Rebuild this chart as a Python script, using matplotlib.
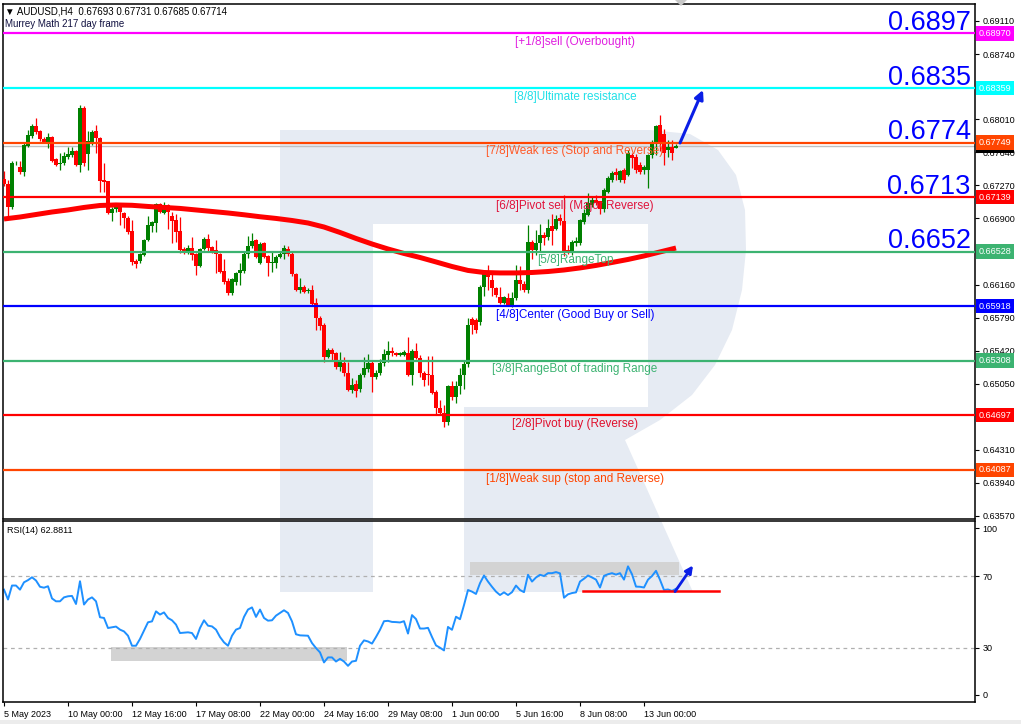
import matplotlib
matplotlib.use('Agg')
import matplotlib.pyplot as plt
from matplotlib.patches import Rectangle, Polygon

plt.rcParams['font.family'] = ['Liberation Sans', 'DejaVu Sans']

# ---------------- data ----------------
opens = [0.6734,0.6729,0.6703,0.6752,0.6748,0.6742,0.6771,0.6782,0.6794,0.6788,
         0.6779,0.6776,0.6781,0.6757,0.6751,0.6752,0.6759,0.6761,0.6765,0.6750,
         0.6814,0.6762,0.6776,0.6788,0.6780,0.6733,0.6732,0.6696,0.6700,0.6703,
         0.6696,0.6690,0.6676,0.6642,0.6642,0.6649,0.6666,0.6682,0.6685,0.6706,
         0.6696,0.6705,0.6693,0.6688,0.6676,0.6656,0.6652,0.6657,0.6650,0.6637,
         0.6656,0.6667,0.6658,0.6655,0.6650,0.6631,0.6620,0.6607,0.6619,0.6629,
         0.6631,0.6650,0.6659,0.6666,0.6640,0.6662,0.6648,0.6640,0.6640,0.6647,
         0.6650,0.6656,0.6650,0.6628,0.6610,0.6613,0.6609,0.6610,0.6595,0.6579,
         0.6571,0.6535,0.6543,0.6539,0.6524,0.6528,0.6517,0.6498,0.6505,0.6499,
         0.6515,0.6522,0.6528,0.6513,0.6517,0.6528,0.6537,0.6542,0.6539,0.6537,
         0.6537,0.6539,0.6515,0.6542,0.6534,0.6517,0.6516,0.6515,0.6496,0.6478,
         0.6472,0.6462,0.6502,0.6490,0.6502,0.6515,0.6527,0.6578,0.6576,0.6574,
         0.6613,0.6629,0.6621,0.6612,0.6602,0.6595,0.6601,0.6593,0.6601,0.6621,
         0.6617,0.6610,0.6664,0.6655,0.6662,0.6671,0.6669,0.6681,0.6678,0.6690,
         0.6687,0.6655,0.6652,0.6662,0.6662,0.6686,0.6694,0.6705,0.6711,0.6709,
         0.6700,0.6720,0.6733,0.6742,0.6733,0.6744,0.6739,0.6761,0.6759,0.6750,
         0.6744,0.6744,0.6761,0.6776,0.6795,0.6785,0.6767,0.6770,0.67693]
highs = [0.6743,0.6733,0.6754,0.6754,0.6754,0.6774,0.6789,0.6796,0.6802,0.6789,
         0.6781,0.6786,0.6782,0.6758,0.6763,0.6764,0.6770,0.6770,0.6767,0.6817,
         0.6816,0.6788,0.6789,0.6795,0.6781,0.6752,0.6732,0.6703,0.6705,0.6707,
         0.6697,0.6693,0.6688,0.6645,0.6651,0.6667,0.6693,0.6687,0.6707,0.6707,
         0.6708,0.6706,0.6697,0.6695,0.6692,0.6658,0.6660,0.6669,0.6651,0.6657,
         0.6669,0.6673,0.6659,0.6666,0.6651,0.6645,0.6623,0.6623,0.6630,0.6640,
         0.6652,0.6670,0.6674,0.6667,0.6664,0.6664,0.6649,0.6652,0.6649,0.6653,
         0.6660,0.6659,0.6652,0.6629,0.6623,0.6616,0.6612,0.6616,0.6601,0.6581,
         0.6573,0.6545,0.6545,0.6541,0.6541,0.6535,0.6529,0.6511,0.6509,0.6517,
         0.6535,0.6538,0.6530,0.6520,0.6533,0.6544,0.6553,0.6546,0.6540,0.6540,
         0.6543,0.6557,0.6544,0.6551,0.6537,0.6519,0.6536,0.6536,0.6498,0.6487,
         0.6481,0.6504,0.6508,0.6508,0.6523,0.6531,0.6579,0.6580,0.6579,0.6616,
         0.6631,0.6638,0.6630,0.6613,0.6613,0.6603,0.6606,0.6608,0.6638,0.6637,
         0.6620,0.6683,0.6666,0.6677,0.6684,0.6675,0.6689,0.6695,0.6694,0.6695,
         0.6716,0.6660,0.6666,0.6669,0.6689,0.6701,0.6718,0.6715,0.6716,0.6710,
         0.6724,0.6737,0.6743,0.6746,0.6744,0.6746,0.6767,0.6763,0.6762,0.6753,
         0.6750,0.6762,0.6778,0.6795,0.6806,0.6790,0.6778,0.6778,0.67731]
lows = [0.6726,0.6690,0.6701,0.6750,0.6740,0.6738,0.6770,0.6780,0.6785,0.6777,
        0.6774,0.6769,0.6753,0.6749,0.6744,0.6750,0.6757,0.6759,0.6749,0.6742,
        0.6749,0.6744,0.6772,0.6763,0.6720,0.6720,0.6695,0.6687,0.6697,0.6683,
        0.6679,0.6673,0.6638,0.6635,0.6640,0.6648,0.6665,0.6675,0.6675,0.6696,
        0.6695,0.6678,0.6662,0.6664,0.6651,0.6650,0.6650,0.6643,0.6627,0.6636,
        0.6655,0.6654,0.6651,0.6629,0.6629,0.6617,0.6604,0.6604,0.6616,0.6615,
        0.6629,0.6646,0.6657,0.6646,0.6639,0.6646,0.6626,0.6630,0.6634,0.6646,
        0.6645,0.6648,0.6626,0.6609,0.6607,0.6606,0.6606,0.6592,0.6565,0.6565,
        0.6529,0.6534,0.6532,0.6522,0.6519,0.6514,0.6497,0.6495,0.6490,0.6496,
        0.6513,0.6518,0.6496,0.6510,0.6515,0.6525,0.6529,0.6536,0.6536,0.6536,
        0.6536,0.6514,0.6504,0.6533,0.6513,0.6503,0.6504,0.6494,0.6471,0.6470,
        0.6457,0.6459,0.6487,0.6483,0.6494,0.6499,0.6524,0.6561,0.6562,0.6571,
        0.6603,0.6610,0.6603,0.6602,0.6594,0.6594,0.6592,0.6591,0.6599,0.6610,
        0.6608,0.6607,0.6645,0.6649,0.6653,0.6660,0.6666,0.6660,0.6677,0.6683,
        0.6648,0.6650,0.6649,0.6659,0.6660,0.6684,0.6693,0.6703,0.6705,0.6695,
        0.6697,0.6718,0.6731,0.6733,0.6731,0.6730,0.6737,0.6746,0.6741,0.6740,
        0.6740,0.6724,0.6758,0.6761,0.6765,0.6750,0.6759,0.6755,0.67685]
closes = [0.6728,0.6703,0.6752,0.6752,0.6742,0.6772,0.6783,0.6794,0.6787,0.6779,
          0.6776,0.6781,0.6754,0.6750,0.6752,0.6760,0.6762,0.6765,0.6750,0.6814,
          0.6752,0.6777,0.6787,0.6780,0.6732,0.6731,0.6696,0.6701,0.6703,0.6697,
          0.6690,0.6675,0.6641,0.6639,0.6650,0.6666,0.6683,0.6686,0.6706,0.6697,
          0.6705,0.6697,0.6687,0.6675,0.6655,0.6652,0.6657,0.6649,0.6637,0.6656,
          0.6667,0.6657,0.6654,0.6650,0.6630,0.6619,0.6607,0.6622,0.6629,0.6632,
          0.6650,0.6659,0.6665,0.6647,0.6661,0.6647,0.6640,0.6641,0.6647,0.6650,
          0.6657,0.6650,0.6628,0.6610,0.6613,0.6608,0.6610,0.6594,0.6579,0.6570,
          0.6535,0.6543,0.6538,0.6524,0.6532,0.6517,0.6498,0.6504,0.6497,0.6515,
          0.6523,0.6528,0.6513,0.6517,0.6528,0.6538,0.6542,0.6539,0.6537,0.6539,
          0.6540,0.6515,0.6542,0.6534,0.6517,0.6509,0.6515,0.6495,0.6478,0.6472,
          0.6462,0.6502,0.6490,0.6502,0.6515,0.6527,0.6571,0.6571,0.6565,0.6613,
          0.6629,0.6624,0.6612,0.6604,0.6595,0.6602,0.6593,0.6601,0.6621,0.6617,
          0.6610,0.6664,0.6655,0.6662,0.6671,0.6668,0.6679,0.6676,0.6689,0.6687,
          0.6652,0.6652,0.6664,0.6665,0.6688,0.6696,0.6707,0.6711,0.6707,0.6700,
          0.6722,0.6735,0.6741,0.6739,0.6743,0.6733,0.6763,0.6758,0.6744,0.6742,
          0.6748,0.6761,0.6776,0.6794,0.6775,0.6763,0.6770,0.6763,0.67714]

# moving average (sampled every 4 bars)
ma_idx = [0, 4, 8, 12, 16, 20, 24, 28, 32, 36, 40, 44, 48, 52, 56, 60, 64, 68,
          72, 76, 80, 84, 88, 92, 96, 100, 104, 108, 112, 116, 120, 124, 128,
          132, 136, 140, 144, 148, 152, 156, 160, 164, 168]
ma_val = [0.66894, 0.66916, 0.66944, 0.66972, 0.66995, 0.67023, 0.67045, 0.67051,
          0.67047, 0.67034, 0.67023, 0.67012, 0.66995, 0.66978, 0.66961, 0.66941,
          0.66919, 0.66900, 0.66877, 0.66849, 0.66804, 0.66743, 0.66676, 0.66614,
          0.66558, 0.66508, 0.66463, 0.66413, 0.66362, 0.66318, 0.66295, 0.66290,
          0.66290, 0.66295, 0.66306, 0.66323, 0.66346, 0.66374, 0.66407, 0.66441,
          0.66480, 0.66525, 0.66569]

rsi = [62.4,56.9,64.7,64.7,62.4,66.5,67.7,69.3,67.5,64.0,63.5,64.3,57.5,55.9,55.9,
       58.1,58.7,58.9,54.4,67.1,54.1,56.9,58.1,55.9,47.0,46.6,41.0,41.4,41.8,40.1,
       39.1,36.7,31.1,31.1,34.9,39.5,44.2,44.7,50.3,48.5,49.7,46.6,45.3,42.9,38.2,
       38.4,38.6,38.2,34.9,41.0,45.3,42.3,41.9,40.1,36.0,33.0,31.1,36.7,40.1,41.0,
       47.2,51.3,52.5,47.2,51.3,46.6,45.1,45.3,47.9,49.4,50.9,49.4,44.7,37.5,36.9,
       36.8,36.7,32.6,29.8,27.4,21.8,24.6,24.6,22.3,23.8,22.3,19.9,22.3,22.7,31.1,
       34.1,33.5,32.3,36.0,40.0,44.8,45.0,44.4,44.3,44.1,44.8,37.9,48.2,46.0,40.7,
       40.7,41.1,36.0,31.3,30.0,28.5,41.6,40.0,47.3,45.9,53.8,62.2,61.3,60.0,66.0,
       70.3,66.9,64.0,61.3,59.4,60.9,59.4,61.0,64.7,62.2,61.0,70.7,66.9,69.2,70.7,
       70.0,71.6,71.6,72.2,71.5,57.9,59.8,60.5,60.9,66.9,68.5,70.3,69.2,68.0,63.6,
       70.1,71.0,71.6,70.8,71.6,68.0,75.4,71.0,64.1,64.0,63.6,68.0,70.0,72.9,67.9,
       62.2,62.5,61.7,62.9]

levels = [0.68970, 0.68359, 0.67749, 0.67139, 0.66528, 0.65918, 0.65308, 0.64697, 0.64087]
level_names = ['[+1/8]sell (Overbought)', '[8/8]Ultimate resistance',
               '[7/8]Weak res (Stop and Reverse)', '[6/8]Pivot sell (Major Reverse)',
               '[5/8]RangeTop', '[4/8]Center (Good Buy or Sell)',
               '[3/8]RangeBot of trading Range', '[2/8]Pivot buy (Reverse)',
               '[1/8]Weak sup (stop and Reverse)']
level_colors = ['#FF00FF', '#00FFFF', '#FF4500', '#FF0000', '#3CB371',
                '#0000FF', '#3CB371', '#FF0000', '#FF4500']
label_colors = ['#E020E0', '#20E0E8', '#FF5A28', '#E0143C', '#3CB371',
                '#0000FF', '#3CB371', '#E0102C', '#FF4500']
big_labels = ['0.6897', '0.6835', '0.6774', '0.6713', '0.6652']

price_ticks = [0.69110, 0.68740, 0.68010, 0.67640, 0.67270, 0.66900,
               0.66160, 0.65790, 0.65420, 0.65050, 0.64310,
               0.63940, 0.63570]
bid = 0.67714
date_pos = [0, 16, 32, 48, 64, 80, 96, 112, 128, 144, 160]
date_labels = ['5 May 2023', '10 May 00:00', '12 May 16:00', '17 May 08:00',
               '22 May 00:00', '24 May 16:00', '29 May 08:00', '1 Jun 00:00',
               '5 Jun 16:00', '8 Jun 08:00', '13 Jun 00:00']
header = '\u25bc AUDUSD,H4  0.67693 0.67731 0.67685 0.67714'
subtitle = 'Murrey Math 217 day frame'
rsi_title = 'RSI(14) 62.8811'

# ---------------- figure ----------------
W, H = 1021, 724
fig = plt.figure(figsize=(W / 100, H / 100), dpi=100)
fig.patch.set_facecolor('white')

def fx(px):
    return px / W

def fy(py):
    return 1 - py / H

ax = fig.add_axes([fx(3), fy(519), fx(975) - fx(3), fy(4) - fy(519)])
rx = fig.add_axes([fx(3), fy(701.5), fx(975) - fx(3), fy(521) - fy(701.5)])

XMIN, XMAX = -0.25, 242.75

# watermark logo (pixel outline)
wm_px = [(280, 130), (650, 130), (690, 134), (718, 150), (736, 175), (745, 210),
         (746, 250), (742, 290), (732, 330), (715, 365), (692, 395), (660, 420),
         (625, 440), (693, 592), (464, 592), (464, 407), (648, 407), (648, 224),
         (373, 224), (373, 592), (280, 592)]
wm_fig = [(fx(x), fy(y)) for x, y in wm_px]
for a in (ax, rx):
    a.add_patch(Polygon(wm_fig, closed=True, transform=fig.transFigure,
                        facecolor='#e6ebf3', edgecolor='none', zorder=0))

# ---- main panel ----
ax.axhline(bid, color='#c0c0c0', lw=1.0, zorder=1)

n = len(closes)
idx = list(range(n))
for i in idx:
    o, h, l, c = opens[i], highs[i], lows[i], closes[i]
    col = '#008000' if c >= o else '#FF0000'
    ax.vlines(i, l, h, color=col, lw=0.9, zorder=3)
    hgt = c - o if abs(c - o) > 0.00004 else 0.00004
    ax.bar(i, hgt, bottom=o, width=0.78, color=col, edgecolor='none', zorder=3)

ax.plot(ma_idx, ma_val, color='#FF0000', lw=3.6, zorder=4,
        solid_capstyle='butt', solid_joinstyle='round')

for lvl, name, lc, tc in zip(levels, level_names, level_colors, label_colors):
    ax.axhline(lvl, color=lc, lw=1.6, zorder=5)
    ax.annotate(name, xy=(142.75, lvl), xytext=(0, -6.3), textcoords='offset points',
                ha='center', va='center', color=tc, fontsize=8.5, zorder=6)

for lvl, txt in zip(levels[:5], big_labels):
    ax.annotate(txt, xy=(1, lvl), xycoords=('axes fraction', 'data'),
                xytext=(-3, 2.5), textcoords='offset points', ha='right',
                va='baseline', color='#0000FF', fontsize=19.5, zorder=6)

# right axis boxes
ax.annotate(f'{bid:.5f}', xy=(1, bid), xycoords=('axes fraction', 'data'),
            xytext=(2.6, 0), textcoords='offset points', ha='left', va='center',
            color='white', fontsize=6.5, annotation_clip=False, zorder=7,
            bbox=dict(boxstyle='square,pad=0.3', fc='black', ec='none'))
for lvl, lc in zip(levels, level_colors):
    ax.annotate(f'{lvl:.5f}', xy=(1, lvl), xycoords=('axes fraction', 'data'),
                xytext=(2.6, 0), textcoords='offset points', ha='left', va='center',
                color='white', fontsize=6.5, annotation_clip=False, zorder=8,
                bbox=dict(boxstyle='square,pad=0.3', fc=lc, ec='none'))

# forecast arrow
ax.annotate('', xy=(174.75, 0.68338), xytext=(169.0, 0.67745),
            arrowprops=dict(arrowstyle='-|>', color='#0a1ee6', lw=2.2,
                            mutation_scale=13, shrinkA=0, shrinkB=0), zorder=9)

ax.set_xlim(XMIN, XMAX)
ax.set_ylim(0.63536, 0.69300)
ax.yaxis.tick_right()
ax.set_yticks(price_ticks)
ax.set_yticklabels([f'{t:.5f}' for t in price_ticks])
ax.tick_params(axis='y', direction='out', length=3, width=0.8, pad=2.5,
               labelsize=6.5, colors='black')
ax.tick_params(axis='x', bottom=False, labelbottom=False)
for s in ax.spines.values():
    s.set_linewidth(1.1)
    s.set_color('black')

# ---- RSI panel ----
rx.add_patch(Rectangle((26.75, 22.7), 59.0, 7.8, facecolor='#d3d3d3',
                       edgecolor='none', zorder=1))
rx.add_patch(Rectangle((116.5, 70.3), 52.25, 7.3, facecolor='#d3d3d3',
                       edgecolor='none', zorder=1))
for lv in (70, 30):
    rx.axhline(lv, color='#b0b0b0', lw=0.9, ls=(0, (3, 3)), zorder=1)
rx.plot(idx, rsi, color='#1E90FF', lw=1.4, zorder=2)
rx.plot([144.75, 178.75], [61.9, 61.9], color='#FF0000', lw=1.8, zorder=3)
rx.annotate('', xy=(172.25, 75.9), xytext=(167.75, 61.3),
            arrowprops=dict(arrowstyle='-|>', color='#0a1ee6', lw=2.0,
                            mutation_scale=11, shrinkA=0, shrinkB=0), zorder=4)
rx.text(0.004, 0.945, rsi_title, transform=rx.transAxes, fontsize=6.5,
        va='center', ha='left', color='black')

rx.set_xlim(XMIN, XMAX)
rx.set_ylim(0, 100.7)
rx.yaxis.tick_right()
rx.set_yticks([3.7, 30, 70, 96.6])
rx.set_yticklabels(['0', '30', '70', '100'])
rx.tick_params(axis='y', direction='out', length=3, width=0.8, pad=2.5,
               labelsize=6.5, colors='black')
rx.set_xticks(date_pos)
rx.set_xticklabels(date_labels)
for lab in rx.get_xticklabels():
    lab.set_horizontalalignment('left')
rx.tick_params(axis='x', direction='out', length=3, width=0.8, pad=3,
               labelsize=6.5, colors='black')
for s in rx.spines.values():
    s.set_linewidth(1.1)
    s.set_color('black')

# header texts
fig.text(fx(5), fy(11), header, fontsize=7, va='center', ha='left',
         color='black', family=['Liberation Sans', 'DejaVu Sans'])
fig.text(fx(5), fy(24), subtitle, fontsize=7, va='center', ha='left',
         color='#101040')

# top marker and bottom strip
fig.patches.append(Polygon([(fx(675), fy(0)), (fx(687), fy(0)), (fx(681), fy(6))],
                           closed=True, transform=fig.transFigure,
                           facecolor='#c8c8c8', edgecolor='none'))
fig.patches.append(Rectangle((0, 0), 1, 4 / H, transform=fig.transFigure,
                             facecolor='#ececec', edgecolor='none'))

fig.savefig('out.png', dpi=100)
